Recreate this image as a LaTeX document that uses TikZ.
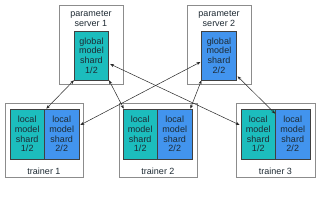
\documentclass[tikz,border=0pt]{standalone}
\usepackage{fontspec}
\setmainfont{Liberation Sans}
\usetikzlibrary{arrows.meta,calc}
\definecolor{tealbox}{HTML}{1CBDBD}
\definecolor{bluebox}{HTML}{4294EE}
\definecolor{txt}{HTML}{1E2A33}
\begin{document}
\begin{tikzpicture}[x=1pt,y=-1pt,
  outerbox/.style={draw=black!45,line width=1pt,fill=white,minimum width=#1,minimum height=74pt,inner sep=0pt},
  serverbox/.style={draw=black!45,line width=1pt,fill=white,minimum width=64pt,minimum height=79pt,inner sep=0pt},
  shard/.style={draw=black!75,line width=0.6pt,fill=#1,minimum height=50pt,minimum width=34.5pt,inner sep=0pt,
    align=center,text=txt,font=\fontsize{9}{9.8}\selectfont},
  lbl/.style={align=center,text=txt,font=\fontsize{9}{9.8}\selectfont,inner sep=0pt},
  link/.style={draw=black!85,line width=0.5pt,{Stealth[length=4pt,width=3pt]}-{Stealth[length=4pt,width=3pt]}}]
\useasboundingbox (0,0) rectangle (327,200);
% servers
\node[serverbox] (ps1) at (91,45.5) {};
\node[serverbox] (ps2) at (219,45.5) {};
\node[lbl] (ps1l) at (91,19) {parameter\\server 1};
\node[lbl] (ps2l) at (219,19) {parameter\\server 2};
\node[shard=tealbox,minimum height=49pt] (g1) at (91.5,55.5) {global\\model\\shard\\1/2};
\node[shard=bluebox,minimum height=49pt] (g2) at (219,55.5) {global\\model\\shard\\2/2};
% trainers
\node[outerbox=78pt] (t1) at (44,141) {};
\node[outerbox=78pt] (t2) at (158,141) {};
\node[outerbox=79pt] (t3) at (275.5,141) {};
\node[shard=tealbox] (t1a) at (27.25,134) {local\\model\\shard\\1/2};
\node[shard=bluebox] (t1b) at (61.75,134) {local\\model\\shard\\2/2};
\node[shard=tealbox] (t2a) at (140.25,134) {local\\model\\shard\\1/2};
\node[shard=bluebox] (t2b) at (174.75,134) {local\\model\\shard\\2/2};
\node[shard=tealbox] (t3a) at (258.25,134) {local\\model\\shard\\1/2};
\node[shard=bluebox] (t3b) at (292.75,134) {local\\model\\shard\\2/2};
\node[lbl] (t1l) at (44,171.5) {trainer 1};
\node[lbl] (t2l) at (158,171.5) {trainer 2};
\node[lbl] (t3l) at (275.5,171.5) {trainer 3};
% links
\draw[link] (g1.south west) -- ($(t1a.north east)+(1.5,0)$);
\draw[link] (g1.south east) -- ($(t2a.north west)+(1,0)$);
\draw[link] ($(g1.east)+(1,8.5)$) -- ($(t3a.west)+(-1,-9)$);
\draw[link] ($(g2.west)+(-1,6.5)$) -- ($(t1b.east)+(1,-9)$);
\draw[link] (g2.south west) -- ($(t2b.north east)+(-2,0)$);
\draw[link] ($(g2.south east)+(1,-4)$) -- ($(t3b.north west)+(0,5)$);
\end{tikzpicture}
\end{document}
